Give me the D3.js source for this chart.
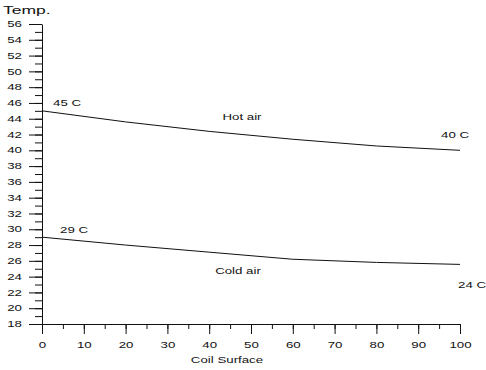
<!DOCTYPE html>
<html>
<head>
<meta charset="utf-8">
<script src="https://cdn.jsdelivr.net/npm/d3@7"></script>
<style>
  body { margin: 0; background: #fff; }
  svg { display: block; }
  text { font-family: "Liberation Sans", Arial, sans-serif; fill: #111; }
</style>
</head>
<body>
<svg id="chart" width="486" height="370"></svg>
<script>
// values
const coil = [0, 20, 40, 60, 80, 100];
const hotAir = [45, 43.6, 42.4, 41.4, 40.55, 40];
const coldAir = [29, 28.0, 27.1, 26.2, 25.8, 25.55];
const xTicks = [0, 10, 20, 30, 40, 50, 60, 70, 80, 90, 100];
const yTicks = [18, 20, 22, 24, 26, 28, 30, 32, 34, 36, 38, 40, 42, 44, 46, 48, 50, 52, 54, 56];
const seriesNames = ["Hot air", "Cold air"];

var svg = d3.select("#chart")
var sx = 1.6   // text in the picture is stretched sideways
var fs = 8.3

var x = d3.scaleLinear().domain([0, 100]).range([42, 460])
var y = d3.scaleLinear().domain([18, 56]).range([324, 24])

// minor ticks first, then major ones on top
var minorX = d3.range(0, 101, 5)
var minorY = d3.range(18, 57, 1)

svg.append("g")
    .attr("transform", "translate(0,324)")
    .call(d3.axisBottom(x).tickValues(minorX).tickSize(5).tickFormat("").tickSizeOuter(0))
    .select(".domain").remove()

svg.append("g")
    .attr("transform", "translate(42,0)")
    .call(d3.axisLeft(y).tickValues(minorY).tickSize(7).tickFormat("").tickSizeOuter(0))
    .select(".domain").remove()

var gx = svg.append("g")
    .attr("transform", "translate(0,324)")
    .call(d3.axisBottom(x).tickValues(xTicks).tickSize(10).tickSizeOuter(0))
gx.selectAll("text")
    .attr("y", 18)
    .attr("transform", "scale(" + sx + ",1)")
    .attr("x", 0)
    .style("font-size", fs + "px")
    .style("font-family", "Liberation Sans, Arial, sans-serif")

var gy = svg.append("g")
    .attr("transform", "translate(42,0)")
    .call(d3.axisLeft(y).tickValues(yTicks).tickSize(13).tickSizeOuter(0))
gy.selectAll("text")
    .attr("x", -20 / sx)
    .attr("transform", "scale(" + sx + ",1)")
    .style("font-size", fs + "px")
    .style("font-family", "Liberation Sans, Arial, sans-serif")

svg.selectAll(".domain").attr("stroke", "#111")
svg.selectAll(".tick line").attr("stroke", "#111")
svg.selectAll(".tick text").attr("fill", "#111")

function label(txt, px, py, size, anchor, stretch) {
    svg.append("text")
        .attr("transform", "translate(" + px + "," + py + ") scale(" + (stretch || sx) + ",1)")
        .attr("text-anchor", anchor || "start")
        .style("font-size", size + "px")
        .text(txt)
}

var line = d3.line()
    .x(function(d) { return x(d[0]) })
    .y(function(d) { return y(d[1]) })

var series = [hotAir, coldAir]
for (let i = 0; i < series.length; i++) {
    let pts = coil.map(function(c, j) { return [c, series[i][j]] })
    svg.append("path")
        .datum(pts)
        .attr("fill", "none")
        .attr("stroke", "#111")
        .attr("stroke-width", 1)
        .attr("d", line)
}

// end labels
let last = coil.length - 1
label(hotAir[0] + " C", x(coil[0]) + 11, y(hotAir[0]) - 5, fs)
label(coldAir[0] + " C", x(coil[0]) + 18, y(coldAir[0]) - 4.5, fs)
label(Math.round(hotAir[last]) + " C", x(coil[last]) - 19, y(hotAir[last]) - 12, fs)
label("24 C", x(coil[last]) - 2, y(coldAir[last]) + 24, fs)

// series names
label(seriesNames[0], 242, 120, fs, "middle")
label(seriesNames[1], 238, 274.3, fs, "middle")

// axis titles
label("Temp.", 3, 14, 10.3, "start", 1.7)
label("Coil Surface", 227, 363, fs, "middle")
</script>
</body>
</html>
